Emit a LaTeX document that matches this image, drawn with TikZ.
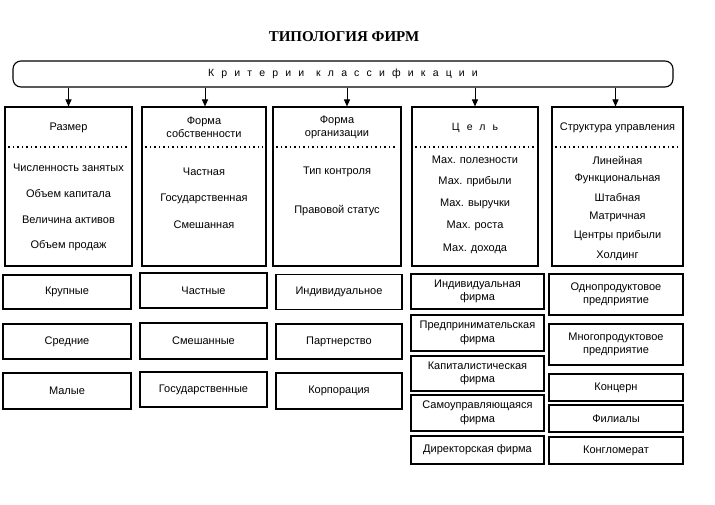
\documentclass[tikz,border=0pt]{standalone}
\usepackage{fontspec}
\setmainfont{Liberation Sans}
\newfontfamily\titlefont{Liberation Serif}
\newfontfamily\spacedfont[LetterSpace=68]{Liberation Sans}
\usetikzlibrary{arrows.meta}
\tikzset{
  box/.style={draw, line width=1.1pt, inner sep=0pt},
  lbl/.style={font=\fontsize{11}{13}\selectfont, align=center, inner sep=0pt},
  lowbox/.style={box, font=\fontsize{11}{13.5}\selectfont, align=center},
  arr/.style={-{Triangle[length=7pt,width=6pt]}, line width=1pt},
  dots/.style={line width=1.3pt, dash pattern=on 1.3pt off 3.2pt},
}
\begin{document}
\begin{tikzpicture}[x=1pt,y=-1pt]
\fill[white] (0,0) rectangle (715,504);
\useasboundingbox (0,0) rectangle (715,504);

\node[font=\titlefont\bfseries\fontsize{15}{17}\selectfont] (title) at (344,37) {ТИПОЛОГИЯ ФИРМ};
\node[draw, rounded corners=8pt, line width=1.1pt, minimum width=660pt, minimum height=26pt,
      font=\spacedfont\fontsize{10.5}{13}\selectfont] (crit) at (343,74) {Критерии\hspace{12pt}классификации};

% upper boxes
\node[box, minimum width=127pt, minimum height=159pt] (u1) at (68.5,186.5) {};
\node[box, minimum width=124pt, minimum height=159pt] (u2) at (204,186.5) {};
\node[box, minimum width=128pt, minimum height=159pt] (u3) at (337,186.5) {};
\node[box, minimum width=126pt, minimum height=159pt] (u4) at (475,186.5) {};
\node[box, minimum width=131pt, minimum height=159pt] (u5) at (617.5,186.5) {};

% arrows
\coordinate (a1) at ([xshift=0pt]u1.north);
\coordinate (a2) at ([xshift=1pt]u2.north);
\coordinate (a3) at ([xshift=10pt]u3.north);
\coordinate (a4) at ([xshift=0pt]u4.north);
\coordinate (a5) at ([xshift=-2pt]u5.north);
\foreach \i in {1,...,5} {\draw[arr] (a\i |- crit.south) -- (a\i);}

% dotted separators
\coordinate (d) at (0,147);
\foreach \i in {1,...,5} {\draw[dots] ([xshift=4pt]u\i.west |- d) -- ([xshift=-4pt]u\i.east |- d);}

% column 1
\node[lbl] (h1) at (68.5,128) {Размер};
\node[lbl] (t11) at (68.5,168) {Численность занятых};
\node[lbl] (t12) at (68.5,194) {Объем капитала};
\node[lbl] (t13) at (68.5,220) {Величина активов};
\node[lbl] (t14) at (68.5,246) {Объем продаж};
% column 2
\node[lbl] (h2) at (204,127) {Форма\\собственности};
\node[lbl] (t21) at (204,172) {Частная};
\node[lbl] (t22) at (204,199) {Государственная};
\node[lbl] (t23) at (204,225) {Смешанная};
% column 3
\node[lbl] (h3) at (337,127) {Форма\\организации};
\node[lbl] (t31) at (337,172) {Тип контроля};
\node[lbl] (t32) at (337,211) {Правовой статус};
% column 4
\node[lbl, font=\spacedfont\fontsize{10.5}{13}\selectfont] (h4) at (475,128) {Цель};
\node[lbl] (t41) at (475,160) {Мах. полезности};
\node[lbl] (t42) at (475,182) {Мах. прибыли};
\node[lbl] (t43) at (475,204) {Мах. выручки};
\node[lbl] (t44) at (475,226) {Мах. роста};
\node[lbl] (t45) at (475,249) {Мах. дохода};
% column 5
\node[lbl] (h5) at (617.5,128) {Структура управления};
\node[lbl] (t51) at (617.5,160) {Линейная};
\node[lbl] (t52) at (617.5,179) {Функциональная};
\node[lbl] (t53) at (617.5,198) {Штабная};
\node[lbl] (t54) at (617.5,217) {Матричная};
\node[lbl] (t55) at (617.5,236) {Центры прибыли};
\node[lbl] (t56) at (617.5,256) {Холдинг};

% lower boxes column 1
\node[lowbox, minimum width=128pt, minimum height=34pt] (l11) at (67,292) {Крупные};
\node[lowbox, minimum width=128pt, minimum height=35pt] (l12) at (67,341.5) {Средние};
\node[lowbox, minimum width=128pt, minimum height=36pt] (l13) at (67,391) {Малые};
% column 2
\node[lowbox, minimum width=127pt, minimum height=35pt] (l21) at (203.5,290.5) {Частные};
\node[lowbox, minimum width=127pt, minimum height=36pt] (l22) at (203.5,341) {Смешанные};
\node[lowbox, minimum width=127pt, minimum height=35pt] (l23) at (203.5,389.5) {Государственные};
% column 3
\node[lowbox, minimum width=126pt, minimum height=35pt] (l31) at (339,292) {Индивидуальное};
\node[lowbox, minimum width=126pt, minimum height=35pt] (l32) at (339,341.5) {Партнерство};
\node[lowbox, minimum width=126pt, minimum height=36pt] (l33) at (339,391) {Корпорация};
% column 4
\node[lowbox, minimum width=133pt, minimum height=35pt] (l41) at (477.5,291.5) {Индивидуальная\\фирма};
\node[lowbox, minimum width=133pt, minimum height=36pt] (l42) at (477.5,333) {Предпринимательская\\фирма};
\node[lowbox, minimum width=133pt, minimum height=35pt] (l43) at (477.5,373.5) {Капиталистическая\\фирма};
\node[lowbox, minimum width=133pt, minimum height=36pt] (l44) at (477.5,413) {Самоуправляющаяся\\фирма};
\node[lowbox, minimum width=133pt, minimum height=28pt] (l45) at (477.5,450) {Директорская фирма};
% column 5
\node[lowbox, minimum width=134pt, minimum height=41pt] (l51) at (616,294.5) {Однопродуктовое\\предприятие};
\node[lowbox, minimum width=134pt, minimum height=41pt] (l52) at (616,344.5) {Многопродуктовое\\предприятие};
\node[lowbox, minimum width=134pt, minimum height=27pt] (l53) at (616,387.5) {Концерн};
\node[lowbox, minimum width=134pt, minimum height=27pt] (l54) at (616,418.5) {Филиалы};
\node[lowbox, minimum width=134pt, minimum height=27pt] (l55) at (616,450.5) {Конгломерат};
\end{tikzpicture}
\end{document}
